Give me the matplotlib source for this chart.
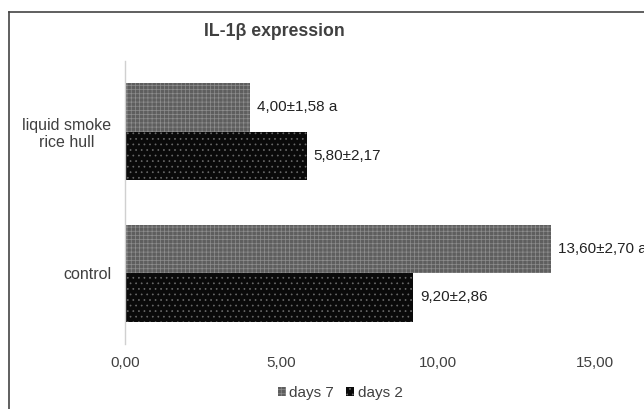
import matplotlib
matplotlib.use('Agg')
import matplotlib.pyplot as plt
from matplotlib.lines import Line2D

plt.rcParams['font.family'] = ['Liberation Sans', 'DejaVu Sans']
plt.rcParams['hatch.linewidth'] = 0.5

categories = ['control', 'liquid smoke\nrice hull']
days7 = [13.60, 4.00]
days2 = [9.20, 5.80]
labels7 = ['13,60±2,70 a', '4,00±1,58 a']
labels2 = ['9,20±2,86', '5,80±2,17']
xticks = [0, 5, 10, 15]
xticklabels = ['0,00', '5,00', '10,00', '15,00']

txt = '#404040'

fig = plt.figure(figsize=(6.44, 4.09), dpi=100)
ax = fig.add_axes([0.194, 0.159, 0.730, 0.692])

h = 0.343
pos = list(range(len(categories)))
b7 = ax.barh([p + h / 2 for p in pos], days7, height=h, color='#5e5e5e',
             edgecolor='#8e8e8e', hatch='++++', linewidth=0, label='days 7')
b2 = ax.barh([p - h / 2 for p in pos], days2, height=h, color='#0a0a0a',
             edgecolor='#6a6a6a', hatch='...', linewidth=0, label='days 2')

for i in pos:
    ax.text(days7[i] + 0.22, i + h / 2, labels7[i], va='center', ha='left',
            fontsize=11, color='#222222')
    ax.text(days2[i] + 0.22, i - h / 2, labels2[i], va='center', ha='left',
            fontsize=11, color='#222222')

ax.set_xlim(0, 15)
ax.set_ylim(-0.5, 1.5)
ax.set_yticks(pos)
ax.set_yticklabels(categories, fontsize=11.5, color=txt, ha='right',
                   multialignment='center', linespacing=1.15)
ax.tick_params(axis='y', length=0, pad=10)
ax.set_xticks(xticks)
ax.set_xticklabels(xticklabels, fontsize=11, color=txt)
ax.tick_params(axis='x', length=0, pad=9)
for s in ['top', 'right', 'bottom']:
    ax.spines[s].set_visible(False)
ax.spines['left'].set_color('#d0d0d0')
ax.spines['left'].set_linewidth(1)

fig.text(274 / 644, 1 - 32 / 409, 'IL-1β expression', fontsize=12.7,
         fontweight='bold', color=txt, ha='center', va='center')

fig.legend(handles=[b7, b2], loc='center', bbox_to_anchor=(340 / 644, 1 - 393 / 409),
           ncol=2, frameon=False, fontsize=11, handlelength=0.55, handleheight=0.55,
           handletextpad=0.2, columnspacing=0.8, labelcolor=txt)

# border of the (cropped) chart area
fig.add_artist(Line2D([0.014, 0.014], [0, 0.971], color='#444444', lw=1.2, transform=fig.transFigure))
fig.add_artist(Line2D([0.014, 1.0], [0.971, 0.971], color='#444444', lw=1.2, transform=fig.transFigure))

fig.savefig('out.png', dpi=100)
